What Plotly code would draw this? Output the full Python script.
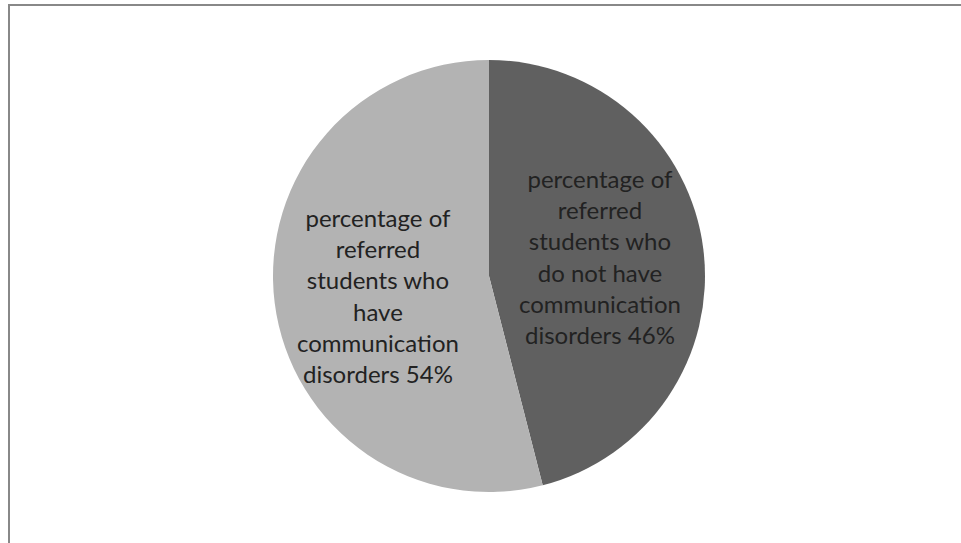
import math
import plotly.graph_objects as go

labels = ["percentage of<br>referred<br>students who<br>do not have<br>communication<br>disorders 46%",
          "percentage of<br>referred<br>students who<br>have<br>communication<br>disorders 54%"]
values = [46, 54]
colors = ["#606060", "#b3b3b3"]

W, H = 961, 543
cx, cy, r = 489, 276, 216

fig = go.Figure(go.Pie(
    values=values,
    textinfo="none",
    marker=dict(colors=colors, line=dict(width=0)),
    sort=False,
    direction="clockwise",
    rotation=0,
    hoverinfo="skip",
    showlegend=False,
    domain=dict(x=[(cx - r) / W, (cx + r) / W], y=[(H - cy - r) / H, (H - cy + r) / H]),
))

# labels placed at each slice's mid-angle
total = sum(values)
cum = 0
for lab, v in zip(labels, values):
    mid = (cum + v / 2) / total * 2 * math.pi
    cum += v
    rr = 0.52 * r
    px = cx + rr * math.sin(mid)
    py = cy - rr * math.cos(mid) * 1.35
    fig.add_annotation(x=px / W, y=1 - py / H, xref="paper", yref="paper",
                       text=lab, showarrow=False, xanchor="center", yanchor="middle",
                       align="center",
                       font=dict(family="Lato", size=24, color="#222222"))

fig.add_shape(type="rect", xref="paper", yref="paper",
              x0=9 / W, x1=1.02, y0=-0.02, y1=1 - 5 / H,
              line=dict(color="#888888", width=2), fillcolor="rgba(0,0,0,0)")

fig.update_layout(width=W, height=H, margin=dict(l=0, r=0, t=0, b=0),
                  paper_bgcolor="white", plot_bgcolor="white")
fig.write_html("out.html")
